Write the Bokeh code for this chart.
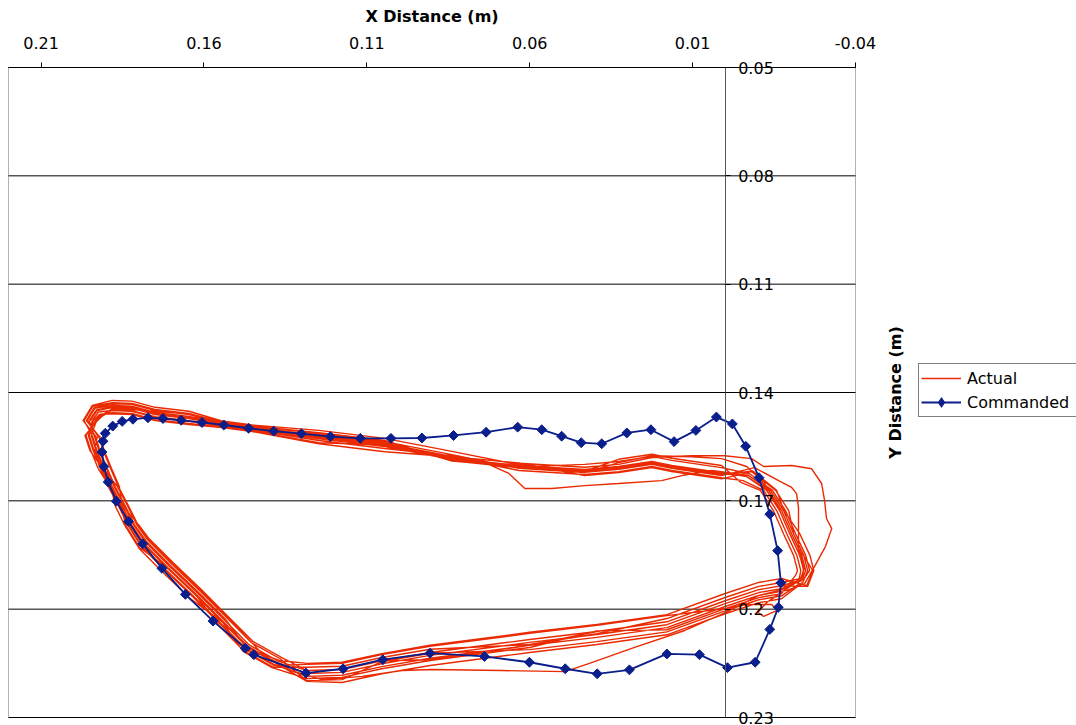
from math import pi

from bokeh.embed import file_html
from bokeh.models import (BoxAnnotation, CustomJSTickFormatter, FixedTicker,
                          Label, Legend, LegendItem, LinearAxis, Range1d)
from bokeh.plotting import figure
from bokeh.resources import INLINE

# ---------------------------------------------------------------- data
X_TICKS = [0.21, 0.16, 0.11, 0.06, 0.01, -0.04]
Y_TICKS = [0.05, 0.08, 0.11, 0.14, 0.17, 0.20, 0.23]
X_BOUNDS = (0.22, -0.04)      # left / right edge of the plot box
Y_BOUNDS = (0.05, 0.23)       # top / bottom edge of the plot box

# commanded way-points (m)
COMMANDED_X = [0.1473, 0.1572, 0.1657, 0.1729, 0.1788, 0.1832, 0.1869, 0.1894,
               0.1907, 0.1913, 0.1910, 0.1903, 0.1880, 0.1851, 0.1818, 0.1772,
               0.1726, 0.1670, 0.1606, 0.1539, 0.1463, 0.1386, 0.1301, 0.1212,
               0.1120, 0.1026, 0.0931, 0.0834, 0.0734, 0.0637, 0.0563, 0.0502,
               0.0442, 0.0379, 0.0302, 0.0228, 0.0157, 0.0090, 0.0027, -0.0022,
               -0.0063, -0.0104, -0.0137, -0.0161, -0.0171, -0.0163, -0.0137,
               -0.0092, -0.0007, 0.0079, 0.0179, 0.0294, 0.0393, 0.0491, 0.0601,
               0.0739, 0.0906, 0.1051, 0.1173, 0.1287, 0.1447]
COMMANDED_Y = [0.2108, 0.2033, 0.1959, 0.1887, 0.1819, 0.1757, 0.1701, 0.1648,
               0.1605, 0.1565, 0.1535, 0.1513, 0.1493, 0.1480, 0.1474, 0.1470,
               0.1472, 0.1477, 0.1483, 0.1490, 0.1499, 0.1507, 0.1514, 0.1522,
               0.1527, 0.1527, 0.1526, 0.1519, 0.1510, 0.1496, 0.1503, 0.1521,
               0.1539, 0.1542, 0.1512, 0.1503, 0.1536, 0.1505, 0.1468, 0.1487,
               0.1549, 0.1636, 0.1737, 0.1838, 0.1927, 0.1995, 0.2056, 0.2147,
               0.2162, 0.2126, 0.2124, 0.2168, 0.2179, 0.2165, 0.2147, 0.2131,
               0.2122, 0.2140, 0.2165, 0.2177, 0.2126]

# measured end-effector position, one list of (x, y) per lap (m)
LAP_A = [(0.1949, 0.1478), (0.1928, 0.1450), (0.1882, 0.1442), (0.1821, 0.1444),
         (0.1750, 0.1461), (0.1646, 0.1472), (0.1545, 0.1489), (0.1452, 0.1500),
         (0.1247, 0.1525), (0.1045, 0.1547), (0.0839, 0.1583), (0.0633, 0.1602),
         (0.0431, 0.1613), (0.0327, 0.1605), (0.0225, 0.1591), (0.0164, 0.1602),
         (0.0011, 0.1622), (-0.0066, 0.1633), (-0.0133, 0.1671), (-0.0173, 0.1727),
         (-0.0204, 0.1791), (-0.0235, 0.1851), (-0.0247, 0.1893), (-0.0235, 0.1921),
         (-0.0173, 0.1943), (-0.0103, 0.1954), (-0.0002, 0.1984), (0.0179, 0.2043),
         (0.0394, 0.2070), (0.0600, 0.2092), (0.0906, 0.2128), (0.1054, 0.2151),
         (0.1176, 0.2175), (0.1284, 0.2178), (0.1376, 0.2148), (0.1465, 0.2103),
         (0.1541, 0.2034), (0.1624, 0.1959), (0.1710, 0.1885), (0.1784, 0.1818),
         (0.1821, 0.1768), (0.1851, 0.1713), (0.1882, 0.1660), (0.1906, 0.1610),
         (0.1928, 0.1561), (0.1943, 0.1519)]
LAP_B = [(0.1968, 0.1478), (0.1941, 0.1438), (0.1882, 0.1428), (0.1821, 0.1430),
         (0.1750, 0.1447), (0.1646, 0.1458), (0.1545, 0.1482), (0.1452, 0.1493),
         (0.1247, 0.1511), (0.1045, 0.1533), (0.0839, 0.1590), (0.0633, 0.1606),
         (0.0431, 0.1599), (0.0327, 0.1591), (0.0225, 0.1577), (0.0164, 0.1588),
         (0.0011, 0.1608), (-0.0075, 0.1625), (-0.0145, 0.1671), (-0.0185, 0.1727),
         (-0.0216, 0.1791), (-0.0247, 0.1851), (-0.0259, 0.1893), (-0.0244, 0.1913),
         (-0.0173, 0.1926), (-0.0103, 0.1937), (-0.0002, 0.1967), (0.0179, 0.2026),
         (0.0394, 0.2068), (0.0600, 0.2098), (0.0906, 0.2111), (0.1054, 0.2134),
         (0.1176, 0.2158), (0.1284, 0.2161), (0.1389, 0.2160), (0.1478, 0.2115),
         (0.1554, 0.2046), (0.1625, 0.1960), (0.1712, 0.1886), (0.1797, 0.1830),
         (0.1840, 0.1768), (0.1855, 0.1713), (0.1890, 0.1660), (0.1925, 0.1610),
         (0.1947, 0.1561), (0.1962, 0.1519)]
LAP_C = [(0.1933, 0.1478), (0.1917, 0.1460), (0.1882, 0.1456), (0.1821, 0.1458),
         (0.1750, 0.1475), (0.1646, 0.1486), (0.1545, 0.1496), (0.1452, 0.1507),
         (0.1247, 0.1539), (0.1045, 0.1545), (0.0839, 0.1578), (0.0633, 0.1616),
         (0.0431, 0.1627), (0.0327, 0.1619), (0.0225, 0.1605), (0.0164, 0.1616),
         (0.0011, 0.1636), (-0.0055, 0.1644), (-0.0118, 0.1671), (-0.0158, 0.1727),
         (-0.0189, 0.1791), (-0.0220, 0.1851), (-0.0232, 0.1893), (-0.0224, 0.1932),
         (-0.0173, 0.1963), (-0.0103, 0.1974), (-0.0002, 0.2004), (0.0179, 0.2063),
         (0.0394, 0.2090), (0.0600, 0.2112), (0.0906, 0.2122), (0.1054, 0.2145),
         (0.1176, 0.2195), (0.1284, 0.2198), (0.1365, 0.2138), (0.1454, 0.2093),
         (0.1530, 0.2024), (0.1613, 0.1949), (0.1699, 0.1875), (0.1773, 0.1808),
         (0.1805, 0.1768), (0.1835, 0.1713), (0.1866, 0.1660), (0.1910, 0.1610),
         (0.1935, 0.1561), (0.1927, 0.1519)]
LAP_D = [(0.1958, 0.1478), (0.1935, 0.1444), (0.1882, 0.1436), (0.1821, 0.1438),
         (0.1750, 0.1455), (0.1646, 0.1466), (0.1545, 0.1486), (0.1452, 0.1497),
         (0.1247, 0.1519), (0.1045, 0.1541), (0.0839, 0.1577), (0.0633, 0.1596),
         (0.0431, 0.1607), (0.0327, 0.1599), (0.0225, 0.1580), (0.0103, 0.1575),
         (0.0002, 0.1575), (-0.0081, 0.1583), (-0.0118, 0.1605), (-0.0204, 0.1602),
         (-0.0265, 0.1611), (-0.0296, 0.1652), (-0.0305, 0.1699), (-0.0311, 0.1749),
         (-0.0327, 0.1777), (-0.0308, 0.1826), (-0.0274, 0.1882), (-0.0244, 0.1929),
         (-0.0189, 0.1948), (-0.0103, 0.1962), (-0.0002, 0.1992), (0.0179, 0.2051),
         (0.0394, 0.2078), (0.0600, 0.2100), (0.0906, 0.2136), (0.1054, 0.2159),
         (0.1176, 0.2183), (0.1284, 0.2186), (0.1383, 0.2154), (0.1472, 0.2109),
         (0.1548, 0.2040), (0.1631, 0.1965), (0.1717, 0.1891), (0.1791, 0.1824),
         (0.1830, 0.1768), (0.1860, 0.1713), (0.1891, 0.1660), (0.1915, 0.1610),
         (0.1937, 0.1561), (0.1952, 0.1519)]
LAP_E = [(0.1943, 0.1478), (0.1924, 0.1454), (0.1882, 0.1450), (0.1821, 0.1452),
         (0.1750, 0.1469), (0.1646, 0.1480), (0.1545, 0.1493), (0.1452, 0.1504),
         (0.1247, 0.1533), (0.1045, 0.1555), (0.0839, 0.1575), (0.0633, 0.1610),
         (0.0431, 0.1621), (0.0327, 0.1613), (0.0225, 0.1599), (0.0164, 0.1610),
         (0.0011, 0.1630), (-0.0090, 0.1608), (-0.0164, 0.1644), (-0.0204, 0.1663),
         (-0.0219, 0.1680), (-0.0225, 0.1718), (-0.0225, 0.1774), (-0.0225, 0.1838),
         (-0.0241, 0.1879), (-0.0238, 0.1918), (-0.0173, 0.1935), (-0.0103, 0.1946),
         (-0.0002, 0.1976), (0.0179, 0.2035), (0.0394, 0.2062), (0.0600, 0.2084),
         (0.0906, 0.2120), (0.1054, 0.2143), (0.1176, 0.2167), (0.1284, 0.2170),
         (0.1372, 0.2144), (0.1461, 0.2099), (0.1537, 0.2030), (0.1620, 0.1955),
         (0.1706, 0.1881), (0.1780, 0.1814), (0.1815, 0.1768), (0.1845, 0.1713),
         (0.1876, 0.1660), (0.1900, 0.1610), (0.1922, 0.1561), (0.1937, 0.1519)]
LAP_F = [(0.1952, 0.1478), (0.1930, 0.1448), (0.1882, 0.1439), (0.1821, 0.1441),
         (0.1750, 0.1458), (0.1646, 0.1469), (0.1545, 0.1488), (0.1452, 0.1499),
         (0.1247, 0.1522), (0.1045, 0.1544), (0.0839, 0.1580), (0.0738, 0.1594),
         (0.0664, 0.1624), (0.0615, 0.1666), (0.0532, 0.1666), (0.0431, 0.1658),
         (0.0327, 0.1652), (0.0195, 0.1644), (0.0133, 0.1630), (0.0041, 0.1616),
         (-0.0070, 0.1629), (-0.0139, 0.1671), (-0.0179, 0.1727), (-0.0210, 0.1791),
         (-0.0241, 0.1851), (-0.0253, 0.1893), (-0.0239, 0.1925), (-0.0173, 0.1971),
         (-0.0103, 0.1982), (-0.0002, 0.2012), (0.0179, 0.2071), (0.0394, 0.2098),
         (0.0600, 0.2120), (0.0906, 0.2156), (0.1054, 0.2179), (0.1176, 0.2203),
         (0.1284, 0.2200), (0.1378, 0.2150), (0.1467, 0.2105), (0.1543, 0.2036),
         (0.1626, 0.1961), (0.1712, 0.1887), (0.1786, 0.1820), (0.1824, 0.1768),
         (0.1854, 0.1713), (0.1885, 0.1660), (0.1909, 0.1610), (0.1931, 0.1561),
         (0.1946, 0.1519)]
LAP_G = [(0.1930, 0.1478), (0.1915, 0.1463), (0.1882, 0.1445), (0.1821, 0.1447),
         (0.1750, 0.1452), (0.1646, 0.1460), (0.1545, 0.1491), (0.1452, 0.1502),
         (0.1247, 0.1528), (0.1045, 0.1550), (0.0839, 0.1586), (0.0633, 0.1605),
         (0.0431, 0.1616), (0.0327, 0.1608), (0.0225, 0.1594), (0.0164, 0.1605),
         (0.0011, 0.1625), (-0.0062, 0.1630), (-0.0127, 0.1671), (-0.0167, 0.1727),
         (-0.0198, 0.1791), (-0.0229, 0.1851), (-0.0241, 0.1893), (-0.0231, 0.1917),
         (-0.0174, 0.1946), (-0.0103, 0.1962), (-0.0002, 0.2009), (0.0124, 0.2059),
         (0.0278, 0.2106), (0.0419, 0.2151), (0.0492, 0.2173), (0.0686, 0.2170),
         (0.0900, 0.2167), (0.0992, 0.2170), (0.1115, 0.2186), (0.1238, 0.2195),
         (0.1330, 0.2170), (0.1416, 0.2128), (0.1528, 0.2022), (0.1611, 0.1947),
         (0.1697, 0.1873), (0.1771, 0.1806), (0.1802, 0.1768), (0.1832, 0.1713),
         (0.1863, 0.1660), (0.1887, 0.1610), (0.1909, 0.1561), (0.1924, 0.1519)]
LAP_H = [(0.1961, 0.1478), (0.1937, 0.1442), (0.1882, 0.1431), (0.1821, 0.1433),
         (0.1750, 0.1450), (0.1646, 0.1461), (0.1545, 0.1483), (0.1452, 0.1494),
         (0.1247, 0.1514), (0.1045, 0.1536), (0.0839, 0.1572), (0.0633, 0.1610),
         (0.0431, 0.1622), (0.0327, 0.1594), (0.0225, 0.1575), (0.0103, 0.1578),
         (0.0011, 0.1583), (-0.0066, 0.1605), (-0.0120, 0.1650), (-0.0160, 0.1712),
         (-0.0193, 0.1780), (-0.0226, 0.1845), (-0.0242, 0.1889), (-0.0231, 0.1918),
         (-0.0189, 0.1943), (-0.0127, 0.1982), (-0.0100, 0.2009), (-0.0118, 0.2020),
         (-0.0158, 0.2004), (-0.0143, 0.1987), (-0.0066, 0.1987), (-0.0002, 0.1998),
         (0.0179, 0.2018), (0.0394, 0.2045), (0.0600, 0.2067), (0.0906, 0.2103),
         (0.1054, 0.2126), (0.1176, 0.2150), (0.1284, 0.2153), (0.1385, 0.2156),
         (0.1474, 0.2111), (0.1550, 0.2042), (0.1633, 0.1967), (0.1719, 0.1893),
         (0.1793, 0.1826), (0.1833, 0.1768), (0.1863, 0.1713), (0.1894, 0.1660),
         (0.1918, 0.1610), (0.1940, 0.1561), (0.1955, 0.1519)]
LAP_I = [(0.1940, 0.1478), (0.1921, 0.1461), (0.1882, 0.1459), (0.1821, 0.1461),
         (0.1750, 0.1478), (0.1646, 0.1489), (0.1545, 0.1497), (0.1452, 0.1508),
         (0.1247, 0.1542), (0.1045, 0.1564), (0.0839, 0.1578), (0.0633, 0.1595),
         (0.0431, 0.1630), (0.0327, 0.1622), (0.0225, 0.1608), (0.0164, 0.1619),
         (0.0011, 0.1639), (-0.0081, 0.1619), (-0.0155, 0.1671), (-0.0195, 0.1727),
         (-0.0210, 0.1791), (-0.0240, 0.1851), (-0.0269, 0.1893), (-0.0250, 0.1935),
         (-0.0173, 0.1915), (-0.0103, 0.1926), (-0.0002, 0.1956), (0.0179, 0.2015),
         (0.0394, 0.2042), (0.0600, 0.2064), (0.0906, 0.2100), (0.1054, 0.2123),
         (0.1176, 0.2147), (0.1284, 0.2150), (0.1369, 0.2142), (0.1470, 0.2107),
         (0.1534, 0.2028), (0.1617, 0.1953), (0.1703, 0.1879), (0.1777, 0.1812),
         (0.1812, 0.1768), (0.1842, 0.1713), (0.1873, 0.1660), (0.1897, 0.1610),
         (0.1919, 0.1561), (0.1934, 0.1519)]
LAP_J = [(0.1971, 0.1478), (0.1943, 0.1436), (0.1882, 0.1422), (0.1821, 0.1424),
         (0.1750, 0.1441), (0.1646, 0.1452), (0.1545, 0.1479), (0.1452, 0.1490),
         (0.1247, 0.1505), (0.1045, 0.1527), (0.0839, 0.1563), (0.0633, 0.1600),
         (0.0431, 0.1618), (0.0327, 0.1585), (0.0225, 0.1571), (0.0164, 0.1582),
         (0.0011, 0.1602), (-0.0048, 0.1649), (-0.0108, 0.1671), (-0.0148, 0.1727),
         (-0.0179, 0.1791), (-0.0210, 0.1851), (-0.0222, 0.1893), (-0.0217, 0.1905),
         (-0.0173, 0.1957), (-0.0103, 0.1968), (-0.0002, 0.1998), (0.0179, 0.2057),
         (0.0394, 0.2060), (0.0600, 0.2106), (0.0906, 0.2142), (0.1054, 0.2165),
         (0.1176, 0.2189), (0.1284, 0.2192), (0.1391, 0.2162), (0.1480, 0.2117),
         (0.1543, 0.2036), (0.1639, 0.1973), (0.1725, 0.1899), (0.1799, 0.1832),
         (0.1843, 0.1768), (0.1873, 0.1713), (0.1885, 0.1660), (0.1912, 0.1610),
         (0.1950, 0.1561), (0.1965, 0.1519)]
LAP_K = [(0.1927, 0.1478), (0.1913, 0.1466), (0.1882, 0.1448), (0.1821, 0.1450),
         (0.1750, 0.1467), (0.1646, 0.1478), (0.1545, 0.1492), (0.1452, 0.1503),
         (0.1247, 0.1515), (0.1045, 0.1538), (0.0839, 0.1589), (0.0633, 0.1608),
         (0.0431, 0.1619), (0.0327, 0.1611), (0.0225, 0.1597), (0.0164, 0.1608),
         (0.0011, 0.1628), (-0.0084, 0.1617), (-0.0158, 0.1671), (-0.0180, 0.1727),
         (-0.0229, 0.1791), (-0.0260, 0.1851), (-0.0272, 0.1893), (-0.0253, 0.1937),
         (-0.0173, 0.1935), (-0.0103, 0.1946), (-0.0002, 0.1976), (0.0179, 0.2035),
         (0.0394, 0.2062), (0.0600, 0.2100), (0.0906, 0.2140), (0.1054, 0.2143),
         (0.1176, 0.2167), (0.1284, 0.2170), (0.1361, 0.2134), (0.1450, 0.2089),
         (0.1526, 0.2020), (0.1609, 0.1945), (0.1695, 0.1871), (0.1769, 0.1804),
         (0.1799, 0.1768), (0.1850, 0.1713), (0.1860, 0.1660), (0.1884, 0.1610),
         (0.1906, 0.1561), (0.1921, 0.1519)]

ACTUAL_LAPS = [LAP_A, LAP_B, LAP_C, LAP_D, LAP_E, LAP_F,
               LAP_G, LAP_H, LAP_I, LAP_J, LAP_K]

# the recorder logs one continuous trace, lap after lap
actual_x = [pt[0] for lap in ACTUAL_LAPS for pt in lap]
actual_y = [pt[1] for lap in ACTUAL_LAPS for pt in lap]

# ---------------------------------------------------------------- figure
FONT = "DejaVu Sans"
RED = "#EA2A00"
NAVY = "#0A1E8C"
W, H = 1076, 725

# the frame fills the whole page; the plot box is drawn at X_BOUNDS/Y_BOUNDS
p = figure(width=W, height=H,
           x_range=Range1d(0.222456, -0.107839),
           y_range=Range1d(0.232215, 0.031446),
           x_axis_location=None, y_axis_location=None,
           output_backend="svg", toolbar_location=None,
           min_border=0, outline_line_color=None,
           background_fill_color="white", border_fill_color="white")
p.grid.visible = False

plain = CustomJSTickFormatter(code="return Number(tick.toFixed(4)).toString();")

# horizontal grid lines across the plot box
n = len(Y_TICKS)
p.segment(x0=[X_BOUNDS[0]] * n, x1=[X_BOUNDS[1]] * n, y0=Y_TICKS, y1=Y_TICKS,
          line_color="#000000", line_width=1)

# plot box border
p.add_layout(BoxAnnotation(left=X_BOUNDS[0], right=X_BOUNDS[1],
                           top=Y_BOUNDS[0], bottom=Y_BOUNDS[1],
                           fill_alpha=0, line_color="#000000", line_width=1,
                           level="underlay"))

# x axis along the top edge of the box
xa = LinearAxis(fixed_location=Y_BOUNDS[0], bounds=(X_BOUNDS[1], X_BOUNDS[0]),
                ticker=FixedTicker(ticks=X_TICKS), formatter=plain,
                axis_label="X Distance (m)",
                axis_label_text_font=FONT, axis_label_text_font_style="bold",
                axis_label_text_font_size="16px", axis_label_text_color="black",
                axis_label_standoff=8,
                major_label_text_font=FONT, major_label_text_font_size="16px",
                major_label_text_color="black", major_label_standoff=14,
                axis_line_color="black", major_tick_line_color="black",
                major_tick_out=5, major_tick_in=0,
                minor_tick_out=0, minor_tick_in=0)
p.add_layout(xa, "above")

# y axis crossing at x = 0, labels on its right
ya = LinearAxis(fixed_location=0, bounds=Y_BOUNDS,
                ticker=FixedTicker(ticks=Y_TICKS), formatter=plain,
                axis_line_color="#555555", axis_line_width=1,
                major_tick_line_color="#000000", major_tick_out=5, major_tick_in=0,
                minor_tick_out=0, minor_tick_in=0,
                major_label_standoff=8,
                major_label_text_font=FONT, major_label_text_font_size="16px",
                major_label_text_color="black")
p.add_layout(ya, "right")

# y axis title, reading bottom to top, right of the box
p.add_layout(Label(x=895, y=H - 392, x_units="screen", y_units="screen",
                   text="Y Distance (m)", angle=pi / 2,
                   text_align="center", text_baseline="middle",
                   text_font=FONT, text_font_style="bold",
                   text_font_size="16px", text_color="black"))

# series
actual = p.line(actual_x, actual_y, line_color=RED, line_width=1.4)
cmd_line = p.line(COMMANDED_X, COMMANDED_Y, line_color=NAVY, line_width=1.8)
# diamond swatch for the legend; it sits under the first way-point marker
cmd_key = p.scatter(COMMANDED_X[:1], COMMANDED_Y[:1], marker="diamond", size=7,
                    fill_color=NAVY, line_color=NAVY)
cmd_pts = p.scatter(COMMANDED_X, COMMANDED_Y, marker="square", angle=pi / 4,
                    size=7, fill_color=NAVY, line_color=NAVY)

legend = Legend(items=[LegendItem(label="Actual", renderers=[actual]),
                       LegendItem(label="Commanded", renderers=[cmd_line, cmd_key])],
                location=(918, H - 417), orientation="vertical",
                label_text_font=FONT, label_text_font_size="16px",
                label_text_color="black",
                glyph_width=40, glyph_height=24, label_height=24,
                label_width=118, label_standoff=6, spacing=0, padding=2,
                margin=0, border_line_color="black", border_line_width=1,
                background_fill_color="white", background_fill_alpha=1)
p.add_layout(legend)

open("out.html", "w").write(file_html(p, INLINE))
